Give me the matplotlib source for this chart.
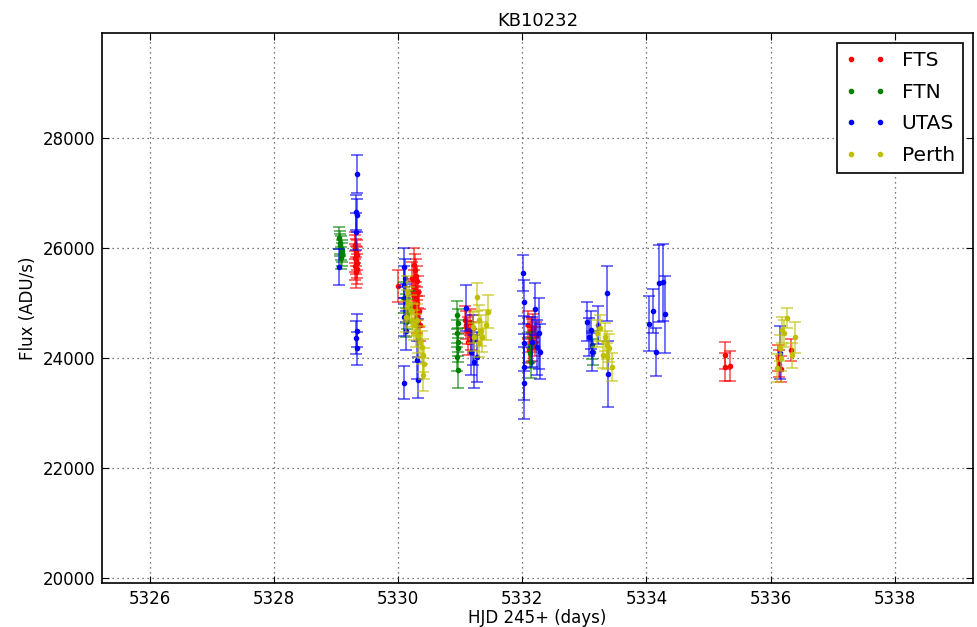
import numpy as np
import matplotlib
matplotlib.use('Agg')
import matplotlib.pyplot as plt

plt.rcParams['font.family'] = 'DejaVu Sans'
plt.rcParams['font.size'] = 12

# FTS
fts_t = [5329.30, 5329.31, 5329.32, 5329.33, 5329.31, 5329.32, 5329.34, 5329.30, 5329.33, 5329.32,
         5330.00,
         5330.22, 5330.24, 5330.25, 5330.27, 5330.28, 5330.30, 5330.26, 5330.32, 5330.29, 5330.31,
         5330.27, 5330.33, 5330.30, 5330.35,
         5331.08, 5331.10, 5331.12, 5331.15, 5331.18, 5331.13, 5331.20,
         5332.10, 5332.12, 5332.15, 5332.18, 5332.14, 5332.20, 5332.16, 5332.11, 5332.22,
         5335.27, 5335.27, 5335.34,
         5336.12, 5336.14, 5336.16, 5336.33]
fts_f = [26050, 25980, 25920, 25870, 25820, 25780, 25730, 25680, 25620, 25560,
         25310,
         25450, 25150, 25700, 25600, 25500, 25400, 25300, 25200, 25100, 25000,
         24950, 24850, 24750, 24600,
         24700, 24600, 24500, 24650, 24400, 24300, 24550,
         24600, 24500, 24450, 24550, 24350, 24300, 24200, 24150, 24400,
         24050, 23840, 23850,
         24000, 23900, 23800, 24150]
fts_e = [250, 260, 250, 270, 260, 250, 280, 260, 270, 280,
         290,
         300, 280, 300, 290, 300, 280, 300, 290, 280, 300,
         290, 280, 300, 290,
         250, 260, 250, 240, 260, 250, 240,
         250, 240, 260, 250, 240, 260, 250, 240, 250,
         250, 260, 270,
         230, 250, 240, 200]

# FTN
ftn_t = [5329.05, 5329.06, 5329.07, 5329.08, 5329.09, 5329.10, 5329.08,
         5330.10, 5330.12, 5330.15, 5330.13, 5330.18,
         5330.95, 5330.96, 5330.95, 5330.96, 5330.97, 5330.95, 5330.96,
         5332.12, 5332.13, 5332.14,
         5333.12, 5333.14]
ftn_f = [26180, 26100, 26050, 26000, 25950, 25880, 25820,
         25100, 24900, 24800, 24650, 24950,
         24780, 24630, 24450, 24290, 24180, 24020, 23780,
         24200, 24090, 23930,
         24240, 24110]
ftn_e = [200, 210, 200, 220, 200, 210, 200,
         280, 270, 280, 260, 270,
         250, 260, 250, 260, 250, 260, 330,
         280, 270, 300,
         250, 240]

# UTAS
utas_t = [5329.05,
          5329.33, 5329.32, 5329.33, 5329.32,
          5329.33, 5329.32, 5329.33,
          5330.10, 5330.11, 5330.09, 5330.12, 5330.10, 5330.13, 5330.10,
          5330.32, 5330.31, 5330.32,
          5331.10, 5331.20, 5331.23, 5331.27, 5331.18,
          5332.01, 5332.02, 5332.03, 5332.02, 5332.03,
          5332.20, 5332.15, 5332.24, 5332.27, 5332.28,
          5333.05, 5333.10, 5333.07, 5333.13, 5333.22, 5333.36, 5333.38,
          5334.04, 5334.10, 5334.15, 5334.21, 5334.26, 5334.30,
          5336.15]
utas_f = [25650,
          27350, 26650, 26600, 26300,
          24500, 24370, 24180,
          25650, 25450, 25330, 25000, 24750, 24500, 23550,
          24360, 23960, 23600,
          24910, 24330, 23930, 24020, 24110,
          25545, 25020, 24270, 23840, 23550,
          24890, 24290, 24200, 24450, 24110,
          24660, 24510, 24380, 24110, 24600, 25180, 23710,
          24620, 24850, 24110, 25360, 25380, 24800,
          24100]
utas_e = [330,
          350, 320, 300, 330,
          300, 300, 300,
          350, 350, 350, 350, 350, 350, 300,
          350, 350, 330,
          420, 450, 480, 450, 420,
          330, 400, 500, 600, 650,
          470, 450, 500, 650, 500,
          350, 350, 350, 350, 350, 500, 600,
          500, 400, 430, 700, 700, 700,
          480]

# Perth
perth_t = [5330.15, 5330.18, 5330.20, 5330.22, 5330.25, 5330.28, 5330.30, 5330.32, 5330.35, 5330.38,
           5330.40, 5330.42, 5330.40, 5330.12, 5330.14,
           5331.27, 5331.44, 5331.42, 5331.35, 5331.20, 5331.22, 5331.30, 5331.33, 5331.31,
           5333.21, 5333.25, 5333.34, 5333.37, 5333.40, 5333.37, 5333.30, 5333.44,
           5336.27, 5336.22, 5336.19, 5336.39, 5336.15, 5336.10, 5336.34, 5336.17]
perth_f = [25200, 25000, 24850, 24700, 24600, 24500, 24700, 24400, 24300, 24200,
           24050, 23900, 23700, 24750, 24950,
           25110, 24840, 24600, 24380, 24560, 24380, 24690, 24500, 24270,
           24450, 24550, 24380, 24240, 24180, 24040, 24060, 23840,
           24730, 24450, 24510, 24380, 24180, 23820, 24050, 24000]
perth_e = [300, 300, 290, 300, 280, 300, 290, 300, 280, 300,
           300, 290, 300, 280, 290,
           250, 300, 280, 270, 280, 260, 270, 280, 260,
           250, 240, 250, 260, 250, 240, 250, 260,
           180, 250, 230, 280, 240, 250, 230, 240]

series = [('FTS', 'r', fts_t, fts_f, fts_e),
          ('FTN', 'g', ftn_t, ftn_f, ftn_e),
          ('UTAS', 'b', utas_t, utas_f, utas_e),
          ('Perth', 'y', perth_t, perth_f, perth_e)]

fig = plt.figure(figsize=(9.77, 6.27), dpi=100)
ax = fig.add_axes([0.1044, 0.0702, 0.8915, 0.8772])

for label, c, t, f, e in series:
    ax.errorbar(t, f, yerr=e, fmt='none', ecolor=c, alpha=0.65,
                elinewidth=1.2, capsize=4, capthick=1.2)
    ax.plot(t, f, '.', color=c, markersize=6, label=label)

ax.set_xlim(5325.23, 5339.26)
ax.set_ylim(19910, 29910)
ax.set_xticks(np.arange(5326, 5339, 2))
ax.set_yticks(np.arange(20000, 28001, 2000))
ax.grid(True, linestyle=(0, (1, 3)), color='0.3', linewidth=0.9)
ax.tick_params(direction='in', top=True, right=True, length=5, pad=5)
for s in ax.spines.values():
    s.set_linewidth(1.2)

ax.set_title('KB10232', fontsize=13, pad=5)
ax.set_xlabel('HJD 245+ (days)', labelpad=1)
ax.set_ylabel('Flux (ADU/s)')
leg = ax.legend(loc='upper right', numpoints=2, fontsize=14.5, fancybox=False,
                framealpha=1, edgecolor='k', borderaxespad=0.5, labelspacing=0.62)
leg.get_frame().set_linewidth(1.2)

fig.savefig('out.png', dpi=100)
